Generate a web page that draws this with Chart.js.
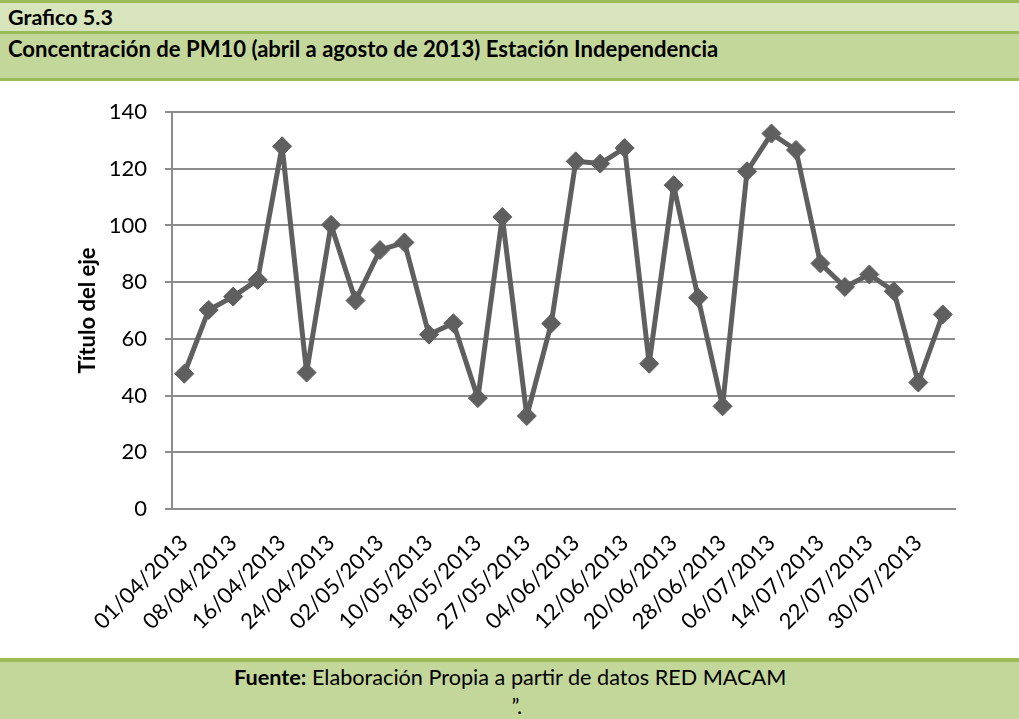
<!DOCTYPE html>
<html><head><meta charset="utf-8">
<script src="https://cdn.jsdelivr.net/npm/chart.js@4.4.1/dist/chart.umd.min.js"></script>
<style>
html,body{margin:0;padding:0;background:#fff;}
#page{position:relative;width:1019px;height:719px;overflow:hidden;background:#fff;}
.band{position:absolute;left:0;width:1019px;}
.txt{position:absolute;white-space:nowrap;color:#000;font-family:Lato,"Open Sans",sans-serif;}
#chartBox{position:absolute;left:0;top:0;width:1019px;height:719px;}
</style></head>
<body><div id="page">
<div class="band" style="top:0;height:3px;background:#9bbb59"></div>
<div class="band" style="top:3px;height:28px;background:#d8e4bc"></div>
<div class="band" style="top:31px;height:3px;background:#9bbb59"></div>
<div class="band" style="top:34px;height:44px;background:#c4d79b"></div>
<div class="band" style="top:78px;height:3px;background:#9bbb59"></div>
<div class="band" style="top:658px;height:4px;background:#9bbb59"></div>
<div class="band" style="top:662px;height:57px;background:#c4d79b"></div>
<div id="t1" class="txt" style="font-weight:bold">Grafico 5.3</div>
<div id="t2" class="txt" style="font-weight:bold">Concentración de PM10 (abril a agosto de 2013) Estación Independencia</div>
<div id="f1" class="txt"><b>Fuente:</b> Elaboración Propia a partir de datos RED MACAM</div>
<div id="f2" class="txt">”.</div>
<div id="chartBox"><canvas id="c"></canvas></div>
</div>
<script>
// ---- data ----
const categories = [
  "01/04/2013","04/04/2013","08/04/2013","12/04/2013","16/04/2013","20/04/2013",
  "24/04/2013","28/04/2013","02/05/2013","06/05/2013","10/05/2013","14/05/2013",
  "18/05/2013","22/05/2013","27/05/2013","31/05/2013","04/06/2013","08/06/2013",
  "12/06/2013","16/06/2013","20/06/2013","24/06/2013","28/06/2013","02/07/2013",
  "06/07/2013","10/07/2013","14/07/2013","18/07/2013","22/07/2013","26/07/2013",
  "30/07/2013","03/08/2013"
];
const pm10 = [
  47.7, 70.2, 74.9, 80.8, 127.9, 48.1, 100.2, 73.5, 91.3, 94.0, 61.5, 65.5,
  39.1, 103.0, 32.8, 65.4, 122.6, 121.8, 127.3, 51.2, 114.2, 74.5, 36.2, 119.1,
  132.4, 126.6, 86.6, 78.3, 82.7, 76.8, 44.6, 68.6
];
const yTickValues = [0, 20, 40, 60, 80, 100, 120, 140];
const axisTitle = "Título del eje";

// ---- header / footer text placement ----
const mc = document.createElement('canvas').getContext('2d');
const FAM = 'Lato, "Open Sans", sans-serif';
function meas(text, weight, size){ mc.font = weight + ' ' + size + 'px ' + FAM; return mc.measureText(text); }
function place(el, o){
  const m = meas(o.fitText, o.weight, 100);
  const size = 100 * o.fitWidth / m.width;
  el.style.fontSize = size + 'px';
  const mm = meas('Hg', 'normal', size);
  const asc = mm.fontBoundingBoxAscent || size*0.95, desc = mm.fontBoundingBoxDescent || size*0.25;
  const L = Math.ceil(asc + desc) + 2;
  el.style.lineHeight = L + 'px';
  el.style.top = (o.baseline - (L/2 + (asc - desc)/2)) + 'px';
  if (o.left !== undefined) el.style.left = o.left + 'px';
  else el.style.left = (o.centerX - el.offsetWidth/2) + 'px';
  return size;
}
place(document.getElementById('t1'), {fitText:'Grafico 5.3', weight:'bold', fitWidth:105, baseline:25, left:8});
place(document.getElementById('t2'), {fitText:'Concentración de PM10 (abril a', weight:'bold', fitWidth:309, baseline:56.5, left:8});
place(document.getElementById('f1'), {fitText:'Elaboración Propia a partir de datos RED', weight:'normal', fitWidth:386, baseline:685, centerX:510});
place(document.getElementById('f2'), {fitText:'Elaboración Propia a partir de datos RED', weight:'normal', fitWidth:386, baseline:714, centerX:517});

// ---- chart ----
const GRID = '#8c8c8c';
const LINE = '#5f5f5f';
new Chart(document.getElementById('c'), {
  type: 'line',
  data: {
    labels: categories,
    datasets: [{
      data: pm10,
      borderColor: LINE, backgroundColor: LINE,
      borderWidth: 5, tension: 0, fill: false,
      borderJoinStyle: 'round', borderCapStyle: 'round',
      pointStyle: 'rectRot', pointRadius: 9.5, pointBorderWidth: 1,
      pointBackgroundColor: LINE, pointBorderColor: LINE
    }]
  },
  options: {
    responsive: true, maintainAspectRatio: false, animation: false,
    layout: { padding: { left: 75, right: 64, top: 112, bottom: 0 } },
    plugins: { legend: { display: false }, tooltip: { enabled: false } },
    scales: {
      x: {
        type: 'category', offset: true,
        grid: { display: false },
        border: { display: true, color: GRID, width: 2 },
        ticks: {
          autoSkip: false, minRotation: 45, maxRotation: 45, padding: 13,
          color: '#000', font: { family: 'Lato', size: 22 },
          callback: function(v, i){ return i % 2 === 0 ? this.getLabelForValue(v) : ''; }
        },
        afterFit(s){ s.height = 210; }
      },
      y: {
        min: 0, max: 140,
        afterBuildTicks(s){ s.ticks = yTickValues.map(v => ({ value: v })); },
        ticks: { padding: 18, color: '#000', font: { family: 'Lato', size: 22 } },
        grid: { color: GRID, lineWidth: 2, tickLength: 7, drawTicks: true },
        border: { color: GRID, width: 2 },
        title: { display: true, text: axisTitle, color: '#000', padding: 0,
                 font: { family: 'Lato', size: 22, weight: 'bold' } },
        afterFit(s){ s.width = 97; }
      }
    }
  }
});
</script>
</body></html>
